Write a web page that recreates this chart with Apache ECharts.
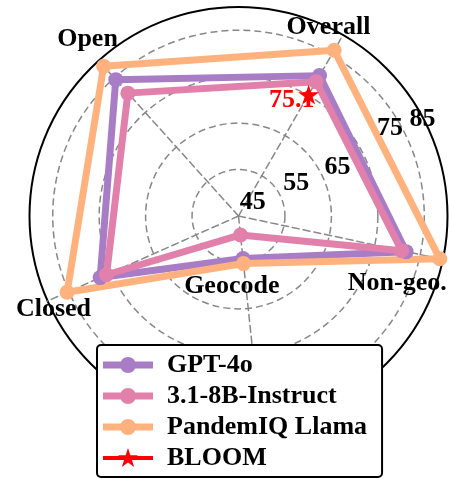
<!DOCTYPE html>
<html>
<head>
<meta charset="utf-8">
<script src="https://cdn.jsdelivr.net/npm/echarts@6/dist/echarts.min.js"></script>
<style>html,body{margin:0;padding:0;background:#fff}#c{width:449px;height:479px}</style>
</head>
<body>
<div id="c"></div>
<script>
// ---- data ----
const indicatorNames = ['Overall', 'Open', 'Closed', 'Geocode', 'Non-geo.'];
const seriesNames = ['GPT-4o', '3.1-8B-Instruct', 'PandemIQ Llama', 'BLOOM'];
const gpt4oValues = [74.9, 79.5, 72.6, 49.2, 76.9];
const instructValues = [73.4, 75.6, 71.1, 44.1, 75.9];
const pandemiqValues = [81.2, 83.4, 80.4, 50.3, 84.3];
const bloomOverallValue = [70.2];
const bloomLabelText = ['75.1'];
const radialTickLabels = [45, 55, 65, 75, 85];

// ---- layout / style ----
const cx = 238.5, cy = 216;
const rMin = 40, rMax = 85, gridMax = 90;
const R = 209;                                   // outer circle (value 85)
const gridR = R * (gridMax - rMin) / (rMax - rMin);
const startAngle = 60;
const colors = ['#A97CC6', '#E280AC', '#FFB27D', '#FF0000'];
const font = 'bold 26px "Liberation Serif"';
const tickAngle = 29.5 * Math.PI / 180;
// small pixel nudges of the radial tick labels (layout only)
const tickNudges = [[-6, -2], [-3, 2], [-2, 8], [10, -8], [2, 6]];
// name label offsets relative to the centre
const nameOffsets = [[90, -188.6], [-151, -176.3], [-185, 93.7], [-6.7, 70.4], [158.7, 67]];

const starPath = 'path://M25,0 L27.35,7.26 L34.99,7.26 L28.8,11.74 L31.17,18.99 L25,14.5 L18.83,18.99 L21.2,11.74 L15.01,7.26 L22.65,7.26 Z';
const circleIcon = 'path://M25,0 L25,0 M25,20 L25,20 M0,6.5 L50,6.5 L50,13.5 L0,13.5 Z M33,10 A8,8 0 1 1 17,10 A8,8 0 1 1 33,10 Z';
const starIcon = 'path://M0,8 L50,8 L50,12 L0,12 Z M25,0 L27.35,7.26 L34.99,7.26 L28.8,11.74 L31.17,18.99 L25,14.5 L18.83,18.99 L21.2,11.74 L15.01,7.26 L22.65,7.26 Z M25,20 L25,20';

const dash = [7, 4];
const hidden = {show: false};

const chart = echarts.init(document.getElementById('c'), null, {renderer: 'canvas'});

const graphics = [];
radialTickLabels.forEach(function (v, i) {
  const r = R * (v - rMin) / (rMax - rMin);
  graphics.push({type: 'text', z: 50,
    x: cx + r * Math.cos(tickAngle) + tickNudges[i][0],
    y: cy - r * Math.sin(tickAngle) + tickNudges[i][1],
    style: {text: String(v), font: font, fill: '#000', align: 'center', verticalAlign: 'middle'}});
});
indicatorNames.forEach(function (n, i) {
  graphics.push({type: 'text', z: 50, x: cx + nameOffsets[i][0], y: cy + nameOffsets[i][1],
    style: {text: n, font: font, fill: '#000', align: 'center', verticalAlign: 'middle'}});
});

const option = {
  animation: false,
  backgroundColor: '#fff',
  radar: [
    { // data grid: dashed rings at 50..80
      center: [cx, cy], radius: gridR, startAngle: startAngle, shape: 'circle', splitNumber: 5,
      indicator: indicatorNames.map(function (n) { return {name: n, min: rMin, max: gridMax}; }),
      axisName: hidden, axisLine: hidden, axisTick: hidden, axisLabel: hidden, splitArea: hidden,
      splitLine: {lineStyle: {color: ['rgba(0,0,0,0)', '#888', '#888', '#888', '#888', 'rgba(0,0,0,0)'], type: dash, width: 1.5}}
    },
    { // spokes + outer solid circle
      center: [cx, cy], radius: R, startAngle: startAngle, shape: 'circle', splitNumber: 1,
      indicator: indicatorNames.map(function (n) { return {name: n, min: 0, max: 1}; }),
      axisName: hidden, axisTick: hidden, axisLabel: hidden, splitArea: hidden,
      axisLine: {lineStyle: {color: '#888', type: dash, width: 1.5}},
      splitLine: {lineStyle: {color: ['rgba(0,0,0,0)', '#000'], width: 2}}
    },
    { // single Overall axis for BLOOM
      center: [cx, cy], radius: gridR, startAngle: startAngle, shape: 'circle', splitNumber: 5,
      indicator: [{name: indicatorNames[0], min: rMin, max: gridMax}],
      axisName: hidden, axisLine: hidden, axisTick: hidden, axisLabel: hidden, splitArea: hidden, splitLine: hidden
    }
  ],
  legend: {
    orient: 'vertical', left: 97, top: 345, padding: [7, 15, 6, 6],
    itemWidth: 50, itemHeight: 20, itemGap: 5,
    backgroundColor: '#fff', borderColor: '#000', borderWidth: 2, borderRadius: 4,
    selectedMode: false,
    textStyle: {fontFamily: 'Liberation Serif', fontWeight: 'bold', fontSize: 26, color: '#000', padding: [0, 0, 0, 9]},
    data: seriesNames.map(function (n, i) { return {name: n, icon: i === 3 ? starIcon : circleIcon}; })
  },
  graphic: graphics,
  series: [
    {type: 'radar', radarIndex: 0, name: seriesNames[0], symbol: 'circle', symbolSize: 15,
      lineStyle: {width: 7, color: colors[0], join: 'round'}, itemStyle: {color: colors[0]},
      data: [{name: seriesNames[0], value: gpt4oValues}]},
    {type: 'radar', radarIndex: 0, name: seriesNames[1], symbol: 'circle', symbolSize: 15,
      lineStyle: {width: 7, color: colors[1], join: 'round'}, itemStyle: {color: colors[1]},
      data: [{name: seriesNames[1], value: instructValues}]},
    {type: 'radar', radarIndex: 0, name: seriesNames[2], symbol: 'circle', symbolSize: 15,
      lineStyle: {width: 7, color: colors[2], join: 'round'}, itemStyle: {color: colors[2]},
      data: [{name: seriesNames[2], value: pandemiqValues}]},
    {type: 'radar', radarIndex: 2, name: seriesNames[3], symbol: starPath, symbolSize: [21, 20],
      lineStyle: {width: 0, opacity: 0}, itemStyle: {color: colors[3]},
      label: {show: true, position: 'inside', offset: [-17, 6], formatter: function () { return bloomLabelText[0]; },
        color: '#FF0000', fontFamily: 'Liberation Serif', fontWeight: 'bold', fontSize: 26},
      data: [{name: seriesNames[3], value: bloomOverallValue}]}
  ]
};
chart.setOption(option);
</script>
</body>
</html>
